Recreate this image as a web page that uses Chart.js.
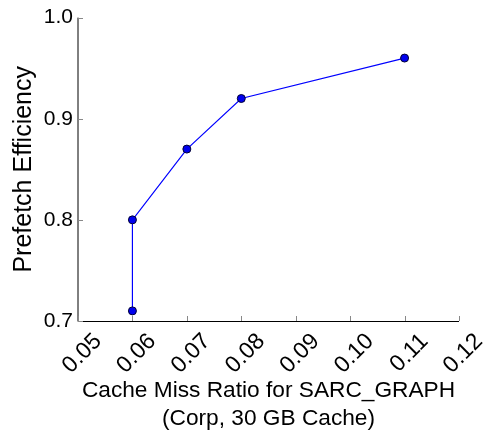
<!DOCTYPE html>
<html><head><meta charset="utf-8">
<script src="https://cdn.jsdelivr.net/npm/chart.js@4/dist/chart.umd.min.js"></script>
<style>html,body{margin:0;padding:0;background:#fff}#wrap{width:487px;height:433px}</style>
</head><body><div id="wrap"><canvas id="c" width="487" height="433"></canvas></div>
<script>
const missRatio = [0.06, 0.06, 0.07, 0.08, 0.11];
const efficiency = [0.71, 0.80, 0.87, 0.92, 0.96];
const xTicks = [0.05, 0.06, 0.07, 0.08, 0.09, 0.10, 0.11, 0.12];
const yTicks = [0.7, 0.8, 0.9, 1.0];

const FONT = "'Liberation Sans', Arial, sans-serif";
const inwardTicks = {
  id: 'inwardTicks',
  afterDraw(chart) {
    const ctx = chart.ctx, x = chart.scales.x, y = chart.scales.y;
    ctx.save();
    ctx.strokeStyle = '#000'; ctx.lineWidth = 1;
    ctx.beginPath();
    ctx.moveTo(x.left, y.top); ctx.lineTo(x.left, y.bottom + 0.5); ctx.lineTo(x.right, y.bottom + 0.5);
    ctx.stroke();
    ctx.strokeStyle = '#888';
    ctx.beginPath();
    xTicks.forEach(v => { const px = Math.round(x.getPixelForValue(v)) + 0.5; ctx.moveTo(px, y.bottom); ctx.lineTo(px, y.bottom - 5); });
    yTicks.forEach(v => { const py = Math.round(y.getPixelForValue(v)) + 0.5; ctx.moveTo(x.left, py); ctx.lineTo(x.left + 5, py); });
    ctx.stroke();
    ctx.restore();
  }
};

new Chart(document.getElementById('c'), {
  type: 'scatter',
  data: { datasets: [{
    data: missRatio.map((v, i) => ({x: v, y: efficiency[i]})),
    showLine: true,
    borderColor: '#0000ff', borderWidth: 1.2,
    backgroundColor: '#0000ee',
    pointBorderColor: '#000033', pointBorderWidth: 1,
    pointRadius: 4, pointHoverRadius: 4
  }]},
  options: {
    responsive: false, animation: false,
    layout: { padding: { left: 0, right: 28, top: 16, bottom: 0 } },
    plugins: { legend: { display: false }, tooltip: { enabled: false } },
    scales: {
      x: {
        type: 'linear', min: 0.05, max: 0.12,
        afterBuildTicks: s => { s.ticks = xTicks.map(v => ({value: v})); },
        afterFit: s => { s.height = 112; },
        grid: { display: false, drawTicks: false }, border: { display: false },
        ticks: { minRotation: 45, maxRotation: 45, padding: 7, labelOffset: 20, color: '#000',
          font: { family: FONT, size: 23 }, callback: v => v.toFixed(2) },
        title: { display: true, text: ['Cache Miss Ratio for SARC_GRAPH', '(Corp, 30 GB Cache)'],
          color: '#000', font: { family: FONT, size: 22.7, lineHeight: 1.2 }, padding: { top: 0, bottom: 1 } }
      },
      y: {
        type: 'linear', min: 0.7, max: 1.0,
        afterBuildTicks: s => { s.ticks = yTicks.map(v => ({value: v})); },
        afterFit: s => { s.width = 78; },
        grid: { display: false, drawTicks: false }, border: { display: false },
        ticks: { padding: 5, color: '#000', font: { family: FONT, size: 21 }, callback: v => v.toFixed(1) },
        title: { display: true, text: 'Prefetch Efficiency', color: '#000',
          font: { family: FONT, size: 25, lineHeight: 1.2 }, padding: { top: 9, bottom: 9 } }
      }
    }
  },
  plugins: [inwardTicks]
});
</script></body></html>
